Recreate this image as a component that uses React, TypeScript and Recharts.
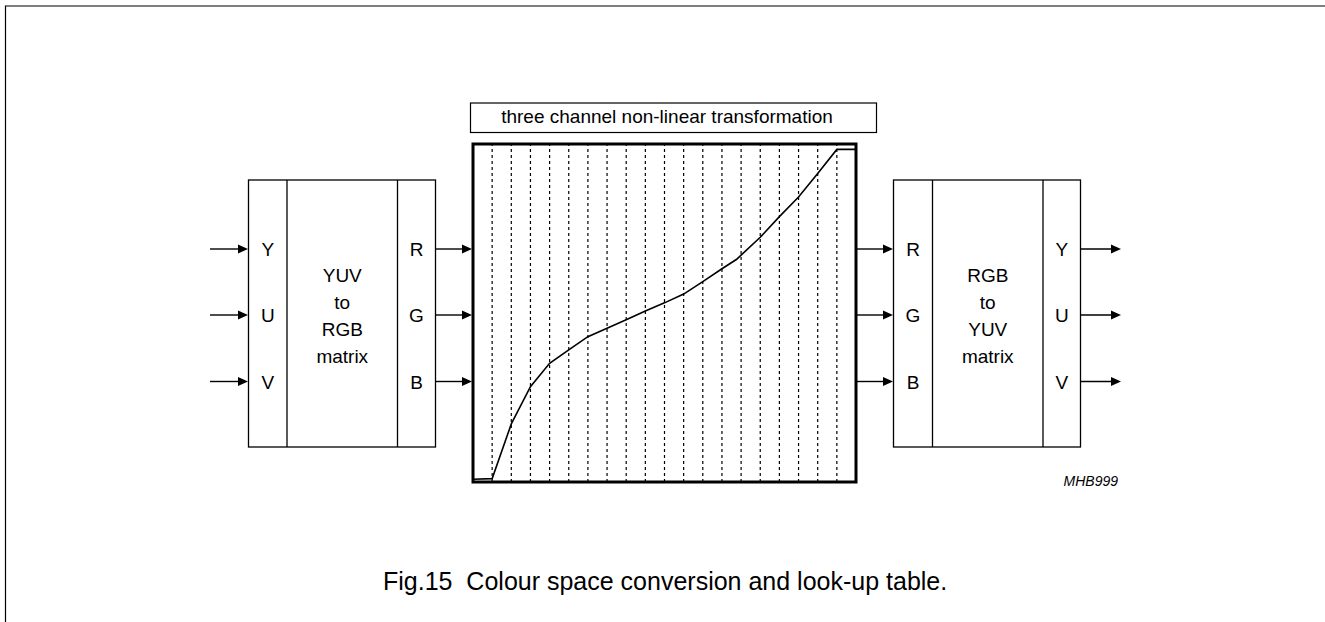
import React from "react";
import {
  LineChart,
  Line,
  XAxis,
  YAxis,
  ReferenceLine,
  ReferenceArea,
  Customized,
} from "recharts";

// ---- data ----
const lutInput = [0, 1, 2, 3, 4, 5, 6, 7, 8, 9, 10, 11, 12, 13, 13.77, 14, 15, 16, 17, 18, 19, 20];
const lutOutput = [0.8, 1.0, 17.2, 28.2, 35.1, 39.1, 43.0, 45.5, 48.0, 50.6, 53.0, 55.6, 59.3, 63.1, 65.9, 67.1, 72.4, 78.5, 84.3, 91.3, 98.4, 98.4];
const gridSteps = [1, 2, 3, 4, 5, 6, 7, 8, 9, 10, 11, 12, 13, 14, 15, 16, 17, 18, 19];
const yuvLabels = ["Y", "U", "V"];
const rgbLabels = ["R", "G", "B"];
const leftMatrixLines = ["YUV", "to", "RGB", "matrix"];
const rightMatrixLines = ["RGB", "to", "YUV", "matrix"];
const titleText = "three channel non-linear transformation";
const captionText = "Fig.15  Colour space conversion and look-up table.";
const codeText = "MHB999";

const lutData = lutInput.map((x, i) => ({ x, y: lutOutput[i] }));

const FONT = "'Liberation Sans', Arial, Helvetica, sans-serif";
const W = 1325;
const H = 622;

const rows = [249, 315, 381.5];

const Arrow = ({ x1, x2, y }: { x1: number; x2: number; y: number }) => (
  <g>
    <line x1={x1} y1={y} x2={x2 - 8} y2={y} stroke="#000" strokeWidth={1.4} />
    <polygon points={`${x2},${y} ${x2 - 10},${y - 4.5} ${x2 - 10},${y + 4.5}`} fill="#000" />
  </g>
);

const Block = ({
  x0, x1, x2, x3, inLabels, outLabels, mid,
}: {
  x0: number; x1: number; x2: number; x3: number;
  inLabels: string[]; outLabels: string[]; mid: string[];
}) => {
  const top = 180;
  const bottom = 447;
  const cx = (x1 + x2) / 2;
  return (
    <g>
      <rect x={x0} y={top} width={x3 - x0} height={bottom - top} fill="none" stroke="#000" strokeWidth={1.3} />
      <line x1={x1} y1={top} x2={x1} y2={bottom} stroke="#000" strokeWidth={1.3} />
      <line x1={x2} y1={top} x2={x2} y2={bottom} stroke="#000" strokeWidth={1.3} />
      {inLabels.map((l, i) => (
        <text key={"in" + l} x={(x0 + x1) / 2} y={rows[i] + 7} textAnchor="middle" fontSize={19} fontFamily={FONT} fill="#000">{l}</text>
      ))}
      {outLabels.map((l, i) => (
        <text key={"out" + l} x={(x2 + x3) / 2} y={rows[i] + 7} textAnchor="middle" fontSize={19} fontFamily={FONT} fill="#000">{l}</text>
      ))}
      {mid.map((l, i) => (
        <text key={"m" + i} x={cx} y={282 + i * 27} textAnchor="middle" fontSize={19} fontFamily={FONT} fill="#000">{l}</text>
      ))}
    </g>
  );
};

const Diagram = () => (
  <g>
    {/* outer frame (only left and top edges visible) */}
    <path d={`M5.5 ${H} V6 H${W}`} fill="none" stroke="#000" strokeWidth={1.2} />
    {/* title box */}
    <rect x={470.5} y={103} width={406} height={29.5} fill="none" stroke="#000" strokeWidth={1.2} />
    <text x={667} y={123} textAnchor="middle" fontSize={19} fontFamily={FONT} fill="#000">{titleText}</text>
    {/* left block */}
    <Block x0={248.5} x1={287} x2={397.5} x3={435.5} inLabels={yuvLabels} outLabels={rgbLabels} mid={leftMatrixLines} />
    {/* right block */}
    <Block x0={893.5} x1={932.5} x2={1043} x3={1080.5} inLabels={rgbLabels} outLabels={yuvLabels} mid={rightMatrixLines} />
    {rows.map((y) => (
      <g key={y}>
        <Arrow x1={210} x2={248} y={y} />
        <Arrow x1={435.5} x2={472} y={y} />
        <Arrow x1={857} x2={893} y={y} />
        <Arrow x1={1080.5} x2={1121} y={y} />
      </g>
    ))}
    <text x={1118} y={486} textAnchor="end" fontSize={14} fontStyle="italic" fontFamily={FONT} fill="#000">{codeText}</text>
    <text x={383} y={590} textAnchor="start" fontSize={25} fontFamily={FONT} fill="#000" xmlSpace="preserve" style={{ whiteSpace: "pre" }}>{captionText}</text>
  </g>
);

export default function App() {
  return (
    <div style={{ position: "absolute", left: 0, top: 0, width: W, height: H, background: "#fff" }}>
      <LineChart
        width={W}
        height={H}
        data={lutData}
        margin={{ top: 144, right: 469, bottom: 140, left: 473 }}
      >
        <XAxis type="number" dataKey="x" domain={[0, 20]} hide />
        <YAxis type="number" domain={[0, 100]} hide />
        {gridSteps.map((k) => (
          <ReferenceLine key={k} x={k} stroke="#000" strokeWidth={1.2} strokeDasharray="3 3" />
        ))}
        <ReferenceArea x1={0} x2={20} y1={0} y2={100} fill="none" fillOpacity={0} stroke="#000" strokeWidth={3} />
        <Line
          type="linear"
          dataKey="y"
          stroke="#000"
          strokeWidth={1.6}
          dot={false}
          activeDot={false}
          isAnimationActive={false}
        />
        <Customized component={Diagram} />
      </LineChart>
    </div>
  );
}
